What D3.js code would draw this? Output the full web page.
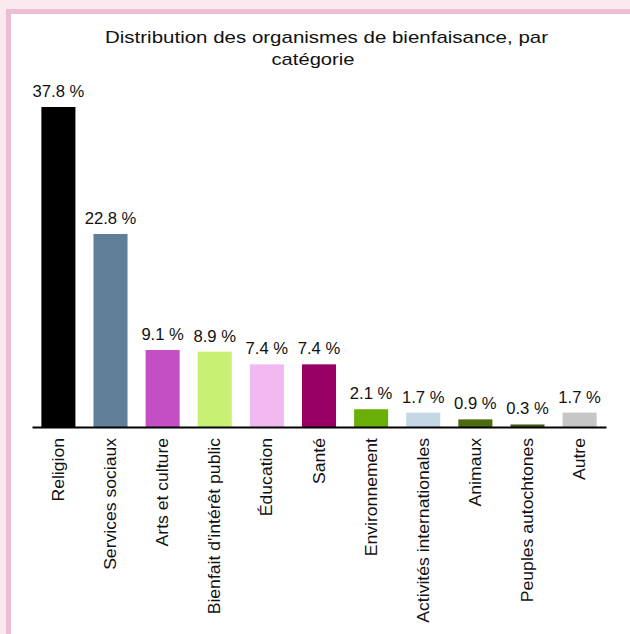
<!DOCTYPE html>
<html>
<head>
<meta charset="utf-8">
<script src="https://cdn.jsdelivr.net/npm/d3@7"></script>
<style>
  body { margin: 0; background: #fbe9f0; }
  svg { display: block; }
  text { font-family: "Liberation Sans", Arial, sans-serif; fill: #111; }
</style>
</head>
<body>
<script>
// data
var categories = ["Religion", "Services sociaux", "Arts et culture", "Bienfait d'intérêt public",
  "Éducation", "Santé", "Environnement", "Activités internationales", "Animaux",
  "Peuples autochtones", "Autre"];
var values = [37.8, 22.8, 9.1, 8.9, 7.4, 7.4, 2.1, 1.7, 0.9, 0.3, 1.7];
var colors = ["#000000", "#5f7f99", "#c44fc4", "#c8f073", "#f2b8f2", "#990066",
  "#6aaf08", "#c4d7e4", "#4a6b10", "#3e5e10", "#c6c6c6"];
var titleLines = ["Distribution des organismes de bienfaisance, par", "catégorie"];

var w = 630;
var h = 634;
var baseline = 427;
var stretch = 1.1; // the original's lettering is a bit wider than Arial

var svg = d3.select('body')
    .append('svg')
    .attr('width', w)
    .attr('height', h);

// pink frame
svg.append('rect').attr('width', w).attr('height', h).attr('fill', '#fbe9f0');
svg.append('rect').attr('x', 6).attr('y', 9).attr('width', w - 6).attr('height', h - 9).attr('fill', '#ecbdd3');
svg.append('rect').attr('x', 11).attr('y', 14).attr('width', w - 11).attr('height', h - 14).attr('fill', '#ffffff');

// title, two lines
svg.append('text')
    .attr('text-anchor', 'middle')
    .attr('font-size', '17px')
    .attr('x', 326.5).attr('y', 43)
    .attr('textLength', 443)
    .attr('lengthAdjust', 'spacingAndGlyphs')
    .text(titleLines[0]);
svg.append('text')
    .attr('text-anchor', 'middle')
    .attr('font-size', '17px')
    .attr('x', 313).attr('y', 65)
    .attr('textLength', 83)
    .attr('lengthAdjust', 'spacingAndGlyphs')
    .text(titleLines[1]);

var xScale = d3.scaleBand()
    .domain(categories)
    .range([32, 606])
    .paddingInner(0.347)
    .paddingOuter(0.18);

var yScale = d3.scaleLinear()
    .domain([0, d3.max(values)])
    .range([baseline, baseline - 320]);

var data = categories.map((c, i) => ({cat: c, val: values[i], color: colors[i]}));

svg.selectAll('rect.bar')
    .data(data)
    .enter()
    .append('rect')
    .attr('class', 'bar')
    .attr('x', d => xScale(d.cat))
    .attr('y', d => yScale(d.val))
    .attr('width', xScale.bandwidth())
    .attr('height', d => baseline - yScale(d.val))
    .attr('fill', d => d.color);

// value labels
svg.selectAll('text.val')
    .data(data)
    .enter()
    .append('text')
    .attr('class', 'val')
    .attr('transform', d => 'translate(' + (xScale(d.cat) + xScale.bandwidth() / 2) + ',' + (yScale(d.val) - 10) + ') scale(1.04,1)')
    .attr('text-anchor', 'middle')
    .attr('font-size', '16px')
    .text(d => d3.format('.1f')(d.val) + ' %');

// axis
var xAxis = d3.axisBottom(xScale)
    .tickSize(0)
    .tickSizeOuter(0);

var gx = svg.append('g')
    .attr('class', 'axis')
    .attr('transform', 'translate(0,' + baseline + ')')
    .call(xAxis);

gx.select('.domain')
    .attr('stroke', '#000')
    .attr('stroke-width', 2);

gx.selectAll('.tick text')
    .attr('font-size', '16px')
    .attr('font-family', '"Liberation Sans", Arial, sans-serif')
    .attr('fill', '#111')
    .attr('text-anchor', 'end')
    .attr('transform', 'rotate(-90) scale(' + stretch + ',1)')
    .attr('x', -11 / stretch)
    .attr('y', 0)
    .attr('dy', '0.35em');
</script>
</body>
</html>
